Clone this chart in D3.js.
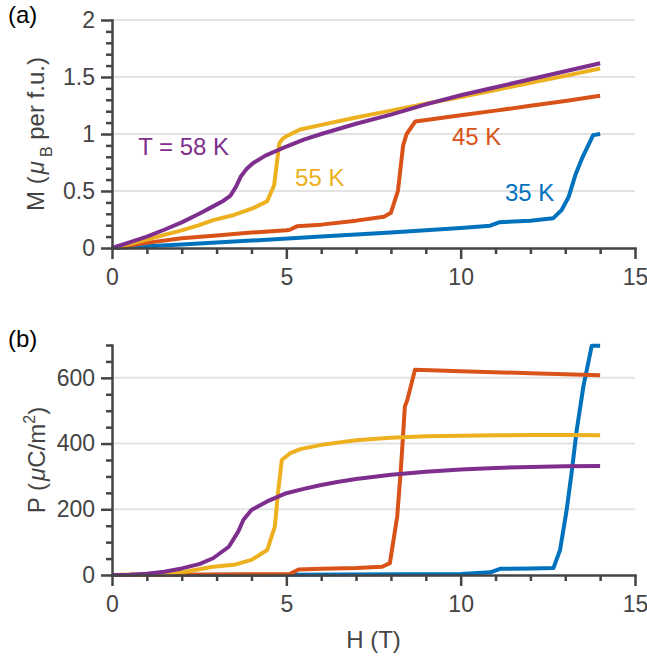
<!DOCTYPE html>
<html>
<head>
<meta charset="utf-8">
<script src="https://cdn.jsdelivr.net/npm/d3@7"></script>
<style>
  body { margin: 0; background: #fff; }
  text { font-family: "Liberation Sans", Arial, Helvetica, sans-serif; }
</style>
</head>
<body>
<svg id="chart" width="647" height="662"></svg>
<script>
// field values (T) and magnetisation (mu_B per f.u.) per temperature
const
  hM35 = [0, 2, 4, 6, 8, 10, 10.85, 11.1, 12, 12.65, 12.9, 13.1, 13.3, 13.5, 13.8, 14],
  m35  = [0, 0.03, 0.065, 0.1, 0.135, 0.175, 0.196, 0.225, 0.24, 0.26, 0.335, 0.45, 0.65, 0.8, 0.99, 1.0],
  hM45 = [0, 1, 2, 3, 4, 5, 5.1, 5.3, 6, 7, 7.8, 8.0, 8.2, 8.35, 8.45, 8.7, 10, 11, 12, 13, 14],
  m45  = [0, 0.045, 0.085, 0.11, 0.135, 0.155, 0.16, 0.19, 0.205, 0.24, 0.275, 0.31, 0.5, 0.9, 1.0, 1.11, 1.165, 1.205, 1.247, 1.29, 1.335],
  hM55 = [0, 0.5, 1, 1.5, 2, 2.5, 2.9, 3.5, 4.05, 4.45, 4.65, 4.8, 4.9, 5.0, 5.4, 6, 7, 8, 9, 10, 11, 12, 13, 14],
  m55  = [0, 0.035, 0.073, 0.115, 0.155, 0.2, 0.245, 0.29, 0.35, 0.41, 0.55, 0.92, 0.96, 0.98, 1.04, 1.08, 1.145, 1.205, 1.265, 1.325, 1.385, 1.45, 1.51, 1.575],
  hM58 = [0, 0.5, 1, 1.5, 2, 2.5, 2.9, 3.2, 3.4, 3.55, 3.7, 3.85, 4.05, 4.4, 5, 5.5, 6, 7, 8, 9, 10, 11, 12, 13, 14],
  m58  = [0, 0.05, 0.1, 0.16, 0.225, 0.3, 0.365, 0.415, 0.46, 0.535, 0.63, 0.69, 0.745, 0.81, 0.89, 0.95, 1.0, 1.09, 1.17, 1.26, 1.34, 1.41, 1.48, 1.55, 1.62]

// field values (T) and polarisation (uC/m^2) per temperature
const
  hP35 = [0, 5, 10, 10.85, 11.13, 12, 12.66, 12.85, 13.04, 13.18, 13.33, 13.52, 13.76, 14],
  p35  = [0, 1, 3, 8, 19, 20, 21, 76, 198, 310, 442, 574, 698, 698],
  hP45 = [0, 2, 4, 5.1, 5.35, 6, 7, 7.75, 7.97, 8.18, 8.29, 8.4, 8.47, 8.69, 10, 12, 14],
  p45  = [0, 1, 2, 3, 17, 19, 21, 25, 36, 178, 330, 513, 533, 625, 620, 614, 608],
  hP55 = [0, 1, 1.5, 2.1, 2.9, 3.5, 4.0, 4.45, 4.67, 4.76, 4.87, 5.1, 5.4, 6, 7, 8, 9, 10, 11, 12, 13, 14],
  p55  = [0, 2, 5, 10, 25, 31, 46, 76, 147, 249, 350, 370, 383, 396, 410, 418, 422, 424, 425, 426, 426, 425],
  hP58 = [0, 0.5, 1, 1.5, 2, 2.5, 2.9, 3.35, 3.62, 3.77, 4.0, 4.45, 5, 5.5, 6, 6.5, 7, 8, 9, 10, 11, 12, 13, 14],
  p58  = [0, 1, 4, 10, 20, 33, 51, 86, 132, 168, 198, 224, 249, 262, 274, 284, 292, 305, 314, 321, 326, 329, 331, 332]

const
  hTicks     = [0, 5, 10, 15],
  hMinor     = d3.range(1, 15).filter(d => d % 5 !== 0),
  mTicks     = [0, 0.5, 1, 1.5, 2],
  mLabels    = ['0', '0.5', '1', '1.5', '2'],
  mMinor     = d3.range(1, 20).filter(d => d % 5 !== 0).map(d => d / 10),
  pTicks     = [0, 200, 400, 600],
  pMinor     = d3.range(50, 701, 50).filter(d => d % 200 !== 0),
  tempLabels = ['35 K', '45 K', '55 K', 'T = 58 K'],
  colors     = ['#0072BD', '#D95319', '#EDB120', '#7E2F8E']

// label anchors in data units [H, M]
const labelAnchors = [[11.27, 0.415], [9.75, 0.906], [5.25, 0.546], [0.75, 0.818]]

const
  svg      = d3.select('#chart'),
  axisGray = '#444',
  left     = 112,
  right    = 635

const x = d3.scaleLinear().domain([0, 15]).range([left, right])

function zip(hs, vs)
{
  return hs.map((h, i) => [h, vs[i]])
}

function drawPanel(y, yTicks, yLabels, yMinor, series)
{
  const g = svg.append('g')
  const [y0, y1] = y.range()

  // grid
  g.selectAll('line.grid')
    .data(yTicks.filter(d => d !== 0))
    .join('line')
    .attr('x1', left).attr('x2', right)
    .attr('y1', d => y(d)).attr('y2', d => y(d))
    .attr('stroke', '#e3e3e3')
    .attr('stroke-width', 2)

  // curves
  const line = d3.line().x(d => x(d[0])).y(d => y(d[1]))
  series.forEach((s, i) =>
  {
    g.append('path')
      .attr('d', line(s))
      .attr('fill', 'none')
      .attr('stroke', colors[i])
      .attr('stroke-width', 4)
      .attr('stroke-linejoin', 'round')
  })

  // axes
  const style = sel =>
  {
    sel.selectAll('path.domain').attr('stroke', axisGray).attr('stroke-width', 2.5).attr('stroke-linecap', 'square')
    sel.selectAll('.tick line').attr('stroke', axisGray).attr('stroke-width', 2.5)
    sel.selectAll('.tick text')
      .attr('fill', axisGray)
      .style('font-size', '23px')
      .style('font-family', '"Liberation Sans", Arial, Helvetica, sans-serif')
  }

  g.append('g')
    .attr('transform', `translate(0,${y0})`)
    .call(d3.axisBottom(x).tickValues(hMinor).tickSize(6).tickFormat('').tickSizeOuter(0))
    .call(sel => sel.select('.domain').remove())
    .call(style)

  g.append('g')
    .attr('transform', `translate(${left},0)`)
    .call(d3.axisLeft(y).tickValues(yMinor).tickSize(6).tickFormat('').tickSizeOuter(0))
    .call(sel => sel.select('.domain').remove())
    .call(style)

  g.append('g')
    .attr('transform', `translate(0,${y0})`)
    .call(d3.axisBottom(x).tickValues(hTicks).tickSize(11).tickPadding(10).tickSizeOuter(0).tickFormat(d3.format('d')))
    .call(style)

  g.append('g')
    .attr('transform', `translate(${left},0)`)
    .call(d3.axisLeft(y).tickValues(yTicks).tickSize(11).tickPadding(6).tickSizeOuter(0)
      .tickFormat((d, i) => yLabels[i]))
    .call(style)

  return g
}

// (a) magnetisation
const yM = d3.scaleLinear().domain([0, 2]).range([248, 20])
const gA = drawPanel(yM, mTicks, mLabels, mMinor,
  [zip(hM35, m35), zip(hM45, m45), zip(hM55, m55), zip(hM58, m58)])

gA.selectAll('text.temp')
  .data(tempLabels)
  .join('text')
  .attr('x', (d, i) => x(labelAnchors[i][0]))
  .attr('y', (d, i) => yM(labelAnchors[i][1]))
  .attr('fill', (d, i) => colors[i])
  .style('font-size', '24px')
  .text(d => d)

// (b) polarisation
const yP = d3.scaleLinear().domain([0, 700]).range([575, 345])
drawPanel(yP, pTicks, pTicks.map(String), pMinor,
  [zip(hP35, p35), zip(hP45, p45), zip(hP55, p55), zip(hP58, p58)])

// panel letters
svg.append('text').attr('x', 8).attr('y', 23).style('font-size', '24px').attr('fill', '#000').text('(a)')
svg.append('text').attr('x', 8).attr('y', 347).style('font-size', '24px').attr('fill', '#000').text('(b)')

// axis labels
const mLab = svg.append('text')
  .attr('transform', `translate(44,${(yM.range()[0] + yM.range()[1]) / 2}) rotate(-90)`)
  .attr('text-anchor', 'middle')
  .attr('fill', axisGray)
  .style('font-size', '24px')
mLab.append('tspan').text('M (')
mLab.append('tspan').attr('dx', 2).style('font-style', 'italic').text('μ')
mLab.append('tspan').attr('dx', 4).attr('dy', 8).style('font-size', '16px').text('B')
mLab.append('tspan').attr('dy', -8).text(' per f.u.)')

const pLab = svg.append('text')
  .attr('transform', `translate(45,${(yP.range()[0] + yP.range()[1]) / 2}) rotate(-90)`)
  .attr('text-anchor', 'middle')
  .attr('fill', axisGray)
  .style('font-size', '24px')
pLab.append('tspan').text('P (')
pLab.append('tspan').attr('dx', 2).style('font-style', 'italic').text('μ')
pLab.append('tspan').text('C/m')
pLab.append('tspan').attr('dy', -10).style('font-size', '16px').text('2')
pLab.append('tspan').attr('dy', 10).text(')')

svg.append('text')
  .attr('x', (left + right) / 2)
  .attr('y', 648)
  .attr('text-anchor', 'middle')
  .attr('fill', axisGray)
  .style('font-size', '24px')
  .text('H (T)')
</script>
</body>
</html>
